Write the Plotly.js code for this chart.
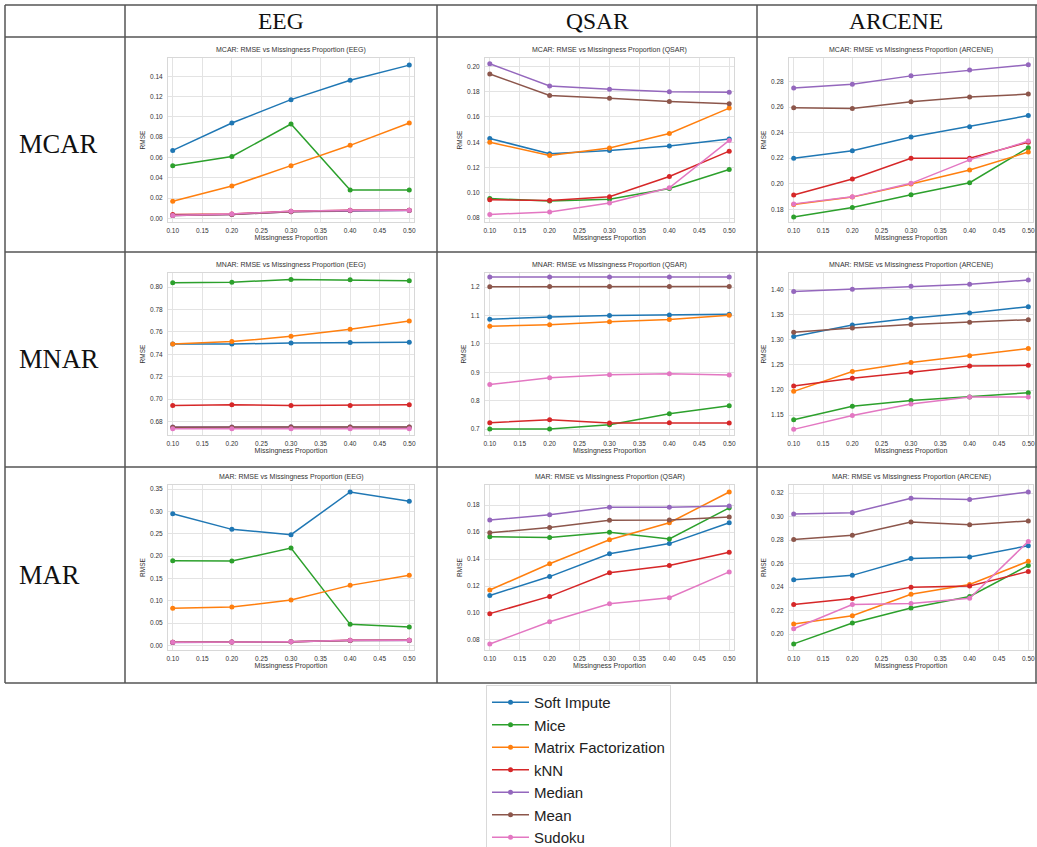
<!DOCTYPE html>
<html>
<head>
<meta charset="utf-8">
<script src="https://cdn.plot.ly/plotly-3.0.1.min.js"></script>
<style>html,body{margin:0;padding:0;background:#fff;width:1037px;height:847px;overflow:hidden;}#chart{width:1037px;height:872px;}</style>
</head>
<body>
<div id="chart"></div>
<script>
// ---- Data ----
const methods = ["Soft Impute", "Mice", "Matrix Factorization", "kNN", "Median", "Mean", "Sudoku"];
const proportions = [0.10, 0.20, 0.30, 0.40, 0.50];
const datasets = ["EEG", "QSAR", "ARCENE"];
const mechanisms = ["MCAR", "MNAR", "MAR"];
const xTickVals = [0.10, 0.15, 0.20, 0.25, 0.30, 0.35, 0.40, 0.45, 0.50];

// rows: Soft Impute, Mice, Matrix Factorization, kNN, Median, Mean, Sudoku
const MCAR_EEG = [
  [0.067, 0.094, 0.117, 0.136, 0.151],
  [0.052, 0.061, 0.093, 0.028, 0.028],
  [0.017, 0.032, 0.052, 0.072, 0.094],
  [0.004, 0.0045, 0.007, 0.008, 0.008],
  [0.003, 0.004, 0.0065, 0.0075, 0.0078],
  [0.003, 0.004, 0.0066, 0.0078, 0.008],
  [0.003, 0.0045, 0.007, 0.008, 0.008]
];
const MCAR_QSAR = [
  [0.143, 0.131, 0.1335, 0.137, 0.1425],
  [0.0955, 0.0935, 0.095, 0.1035, 0.1185],
  [0.140, 0.1295, 0.1355, 0.147, 0.167],
  [0.0945, 0.094, 0.097, 0.113, 0.133],
  [0.202, 0.1845, 0.182, 0.180, 0.1795],
  [0.194, 0.177, 0.1748, 0.1722, 0.1705],
  [0.083, 0.085, 0.092, 0.104, 0.1415]
];
const MCAR_ARCENE = [
  [0.220, 0.2258, 0.2366, 0.2447, 0.2534],
  [0.174, 0.1813, 0.1913, 0.2008, 0.2282],
  [0.1837, 0.1895, 0.1997, 0.2108, 0.2248],
  [0.1911, 0.2037, 0.2200, 0.2200, 0.2325],
  [0.275, 0.2779, 0.2845, 0.289, 0.2932],
  [0.2595, 0.2590, 0.2642, 0.2679, 0.2702],
  [0.1842, 0.1897, 0.2003, 0.2187, 0.2335]
];
const MNAR_EEG = [
  [0.7492, 0.7492, 0.7500, 0.7504, 0.7507],
  [0.8039, 0.8042, 0.8068, 0.8065, 0.8056],
  [0.7492, 0.7513, 0.7560, 0.7623, 0.7697],
  [0.6943, 0.6949, 0.6943, 0.6943, 0.6949],
  [0.6752, 0.6752, 0.6753, 0.6752, 0.6752],
  [0.6750, 0.6750, 0.6751, 0.6751, 0.6751],
  [0.6735, 0.6735, 0.6735, 0.6735, 0.6735]
];
const MNAR_QSAR = [
  [1.087, 1.095, 1.100, 1.102, 1.105],
  [0.700, 0.700, 0.7155, 0.7536, 0.782],
  [1.062, 1.068, 1.0786, 1.0857, 1.101],
  [0.7226, 0.733, 0.7214, 0.7226, 0.7214],
  [1.2357, 1.2357, 1.2357, 1.2357, 1.2357],
  [1.2012, 1.202, 1.202, 1.202, 1.202],
  [0.857, 0.881, 0.8917, 0.8952, 0.8905]
];
const MNAR_ARCENE = [
  [1.3066, 1.3296, 1.3428, 1.3533, 1.3658],
  [1.1408, 1.1678, 1.1790, 1.1862, 1.1947],
  [1.1974, 1.2368, 1.2546, 1.2684, 1.2829],
  [1.2079, 1.2237, 1.2355, 1.2480, 1.2493],
  [1.3960, 1.4007, 1.4066, 1.4105, 1.4190],
  [1.3151, 1.3237, 1.3303, 1.3349, 1.3401],
  [1.1217, 1.1493, 1.1724, 1.1862, 1.1862]
];
const MAR_EEG = [
  [0.2948, 0.2597, 0.2478, 0.3433, 0.3224],
  [0.1896, 0.1888, 0.2179, 0.047, 0.041],
  [0.0828, 0.0858, 0.1015, 0.1343, 0.1567],
  [0.0068, 0.0076, 0.0083, 0.0112, 0.0112],
  [0.0066, 0.0074, 0.0081, 0.0110, 0.0111],
  [0.0067, 0.0075, 0.0082, 0.0111, 0.0112],
  [0.0067, 0.0075, 0.0082, 0.0112, 0.0112]
];
const MAR_QSAR = [
  [0.113, 0.127, 0.144, 0.1515, 0.167],
  [0.1565, 0.156, 0.160, 0.155, 0.178],
  [0.117, 0.1365, 0.1543, 0.167, 0.1898],
  [0.0995, 0.1123, 0.1298, 0.1353, 0.145],
  [0.169, 0.173, 0.1785, 0.1785, 0.1795],
  [0.1595, 0.1635, 0.1688, 0.169, 0.1713],
  [0.077, 0.0935, 0.1068, 0.1113, 0.1305]
];
const MAR_ARCENE = [
  [0.2462, 0.2500, 0.2643, 0.2657, 0.2752],
  [0.1917, 0.2095, 0.2223, 0.2320, 0.2585],
  [0.2086, 0.2157, 0.2340, 0.2423, 0.2620],
  [0.2252, 0.2304, 0.2400, 0.2409, 0.2534],
  [0.3022, 0.3033, 0.3157, 0.3146, 0.3209],
  [0.2805, 0.2842, 0.2954, 0.2931, 0.2963],
  [0.2046, 0.2252, 0.2260, 0.2306, 0.2789]
];

// ---- Styling / layout (not data) ----
const colors = ["#1f77b4", "#2ca02c", "#ff7f0e", "#d62728", "#9467bd", "#8c564b", "#e377c2"];
const grid = [
  [MCAR_EEG, MCAR_QSAR, MCAR_ARCENE],
  [MNAR_EEG, MNAR_QSAR, MNAR_ARCENE],
  [MAR_EEG, MAR_QSAR, MAR_ARCENE]
];
const yRanges = [
  [[-0.0035, 0.158], [0.077, 0.2066], [0.170, 0.2985]],
  [[0.668, 0.8125], [0.679, 1.25], [1.1105, 1.433]],
  [[-0.0104, 0.359], [0.0725, 0.195], [0.1865, 0.3269]]
];
const yDticks = [[0.02, 0.02, 0.02], [0.02, 0.1, 0.05], [0.05, 0.02, 0.02]];
const yFormats = [[".2f", ".2f", ".2f"], [".2f", ".1f", ".2f"], [".2f", ".2f", ".2f"]];

// figure is slightly taller than the window so the legend box is clipped at the bottom like the original
const W = 1037, H = 872;
const colLeft = [168, 485, 789], colRight = [414, 734, 1033];
const rowTop = [58, 273, 485], rowBottom = [222, 435, 650];
const px = v => v / W, py = v => 1 - v / H;

const traces = [];
const layout = {
  width: W, height: H,
  margin: {l: 0, r: 0, t: 0, b: 0},
  paper_bgcolor: "#ffffff", plot_bgcolor: "#ffffff",
  font: {family: "Liberation Sans, Arial, sans-serif", color: "#333"},
  showlegend: true,
  legend: {
    x: px(486), y: py(685), xanchor: "left", yanchor: "top",
    font: {size: 15, family: "Liberation Sans, Arial, sans-serif", color: "#222"},
    bordercolor: "#d9d9d9", borderwidth: 1, bgcolor: "#ffffff",
    tracegroupgap: 0, itemwidth: 37
  },
  annotations: [], shapes: []
};

let k = 0;
for (let r = 0; r < 3; r++) {
  for (let c = 0; c < 3; c++) {
    k++;
    const sfx = k === 1 ? "" : String(k);
    const data = grid[r][c];
    for (let m = 0; m < methods.length; m++) {
      traces.push({
        type: "scatter", mode: "lines+markers",
        x: proportions, y: data[m],
        name: methods[m], legendgroup: methods[m],
        showlegend: k === 1,
        line: {color: colors[m], width: 1.5},
        marker: {color: colors[m], size: 5},
        xaxis: "x" + sfx, yaxis: "y" + sfx
      });
    }
    layout["xaxis" + sfx] = {
      domain: [px(colLeft[c]), px(colRight[c])],
      anchor: "y" + sfx,
      range: [0.092, 0.508],
      tickvals: xTickVals, tickformat: ".2f",
      tickfont: {size: 6.5, color: "#333"},
      showgrid: true, gridcolor: "#e3e3e3", gridwidth: 1,
      zeroline: false, showline: true, mirror: true, linecolor: "#d8d8d8", linewidth: 1,
      ticks: "", ticklabelstandoff: 2,
      title: {text: "Missingness Proportion", font: {size: 7, color: "#333"}, standoff: 1}
    };
    layout["yaxis" + sfx] = {
      domain: [py(rowBottom[r]), py(rowTop[r])],
      anchor: "x" + sfx,
      range: yRanges[r][c],
      dtick: yDticks[r][c], tick0: 0, tickformat: yFormats[r][c],
      tickfont: {size: 6.5, color: "#333"},
      showgrid: true, gridcolor: "#e3e3e3", gridwidth: 1,
      zeroline: false, showline: true, mirror: true, linecolor: "#d8d8d8", linewidth: 1,
      ticks: "", ticklabelstandoff: 3,
      title: {text: "RMSE", font: {size: 6.5, color: "#333"}, standoff: 3}
    };
    layout.annotations.push({
      text: mechanisms[r] + ": RMSE vs Missingness Proportion (" + datasets[c] + ")",
      xref: "paper", yref: "paper",
      x: px((colLeft[c] + colRight[c]) / 2), y: py(rowTop[r] - 2),
      xanchor: "center", yanchor: "bottom", showarrow: false,
      font: {size: 7, color: "#333"}
    });
  }
}

// table header & row labels
const colCenters = [281, 597, 896];
datasets.forEach((d, i) => layout.annotations.push({
  text: d, xref: "paper", yref: "paper", x: px(colCenters[i]), y: py(21),
  xanchor: "center", yanchor: "middle", showarrow: false,
  font: {family: "Liberation Serif, Times New Roman, serif", size: 23.5, color: "#111"}
}));
const rowCenters = [144, 359, 575];
mechanisms.forEach((m, i) => layout.annotations.push({
  text: m, xref: "paper", yref: "paper", x: px(17), y: py(rowCenters[i]),
  xanchor: "left", yanchor: "middle", showarrow: false,
  font: {family: "Liberation Serif, Times New Roman, serif", size: 26.5, color: "#111"}
}));

// table lines
const hLines = [5, 37, 252, 467, 683];
const vLines = [5, 125, 437, 757, 1036];
hLines.forEach(y => layout.shapes.push({type: "line", xref: "paper", yref: "paper",
  x0: px(5), x1: px(1037), y0: py(y), y1: py(y), line: {color: "#555", width: 1.5}}));
vLines.forEach(x => layout.shapes.push({type: "line", xref: "paper", yref: "paper",
  x0: px(x), x1: px(x), y0: py(5), y1: py(683), line: {color: "#555", width: 1.5}}));

Plotly.newPlot("chart", traces, layout, {displayModeBar: false, staticPlot: true});
</script>
</body>
</html>
